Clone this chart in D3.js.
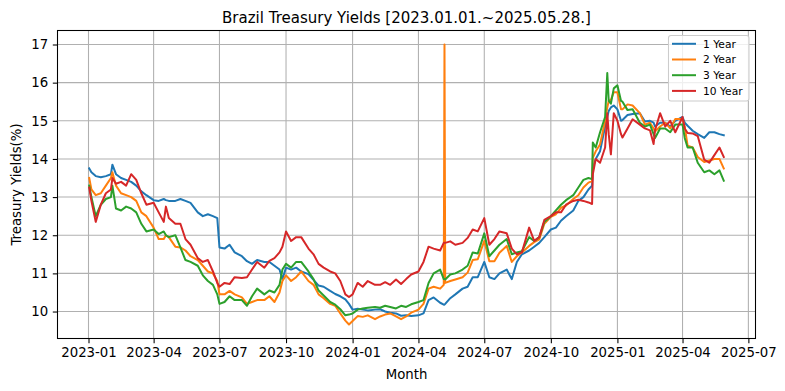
<!DOCTYPE html>
<html>
<head>
<meta charset="utf-8">
<script src="https://cdn.jsdelivr.net/npm/d3@7"></script>
<style>
  html, body { margin: 0; padding: 0; background: #fff; }
  svg { display: block; font-family: "DejaVu Sans", sans-serif; }
</style>
</head>
<body>
<svg id="chart" width="785" height="391"></svg>
<script>
const dates = [
"2023-01-02","2023-01-05","2023-01-11","2023-01-18","2023-01-25","2023-02-01","2023-02-03","2023-02-08","2023-02-15","2023-02-22",
"2023-03-01","2023-03-08","2023-03-15","2023-03-22","2023-04-01","2023-04-08","2023-04-15","2023-04-18","2023-04-22","2023-05-01",
"2023-05-08","2023-05-15","2023-05-22","2023-06-01","2023-06-08","2023-06-15","2023-06-22","2023-06-28","2023-07-01","2023-07-08",
"2023-07-15","2023-07-22","2023-08-01","2023-08-08","2023-08-15","2023-08-22","2023-09-01","2023-09-08","2023-09-15","2023-09-22",
"2023-09-26","2023-10-01","2023-10-08","2023-10-15","2023-10-22","2023-11-01","2023-11-08","2023-11-15","2023-11-22","2023-12-01",
"2023-12-08","2023-12-15","2023-12-22","2023-12-27","2024-01-01","2024-01-08","2024-01-15","2024-01-22","2024-02-01","2024-02-08",
"2024-02-15","2024-02-22","2024-03-01","2024-03-08","2024-03-15","2024-03-22","2024-04-01","2024-04-08","2024-04-15","2024-04-22",
"2024-05-01","2024-05-06","2024-05-07","2024-05-08","2024-05-15","2024-05-22","2024-06-01","2024-06-08","2024-06-15","2024-06-22",
"2024-07-01","2024-07-08","2024-07-15","2024-07-22","2024-08-01","2024-08-08","2024-08-15","2024-08-22","2024-09-01","2024-09-08",
"2024-09-15","2024-09-22","2024-10-01","2024-10-08","2024-10-15","2024-10-22","2024-11-01","2024-11-08","2024-11-15","2024-11-22",
"2024-11-27","2024-11-28","2024-12-02","2024-12-08","2024-12-15","2024-12-18","2024-12-20","2024-12-23","2024-12-27","2025-01-01",
"2025-01-06","2025-01-08","2025-01-15","2025-01-22","2025-02-01","2025-02-08","2025-02-15","2025-02-20","2025-02-22","2025-03-01",
"2025-03-08","2025-03-15","2025-03-22","2025-04-01","2025-04-04","2025-04-08","2025-04-15","2025-04-22","2025-05-01","2025-05-08",
"2025-05-15","2025-05-22","2025-05-28"
];

const year1 = [
13.75,13.65,13.55,13.52,13.55,13.6,13.85,13.6,13.5,13.45,
13.4,13.3,13.15,13.05,12.92,12.9,12.95,12.92,12.9,12.9,
12.95,12.9,12.85,12.6,12.5,12.55,12.5,12.45,11.68,11.65,
11.75,11.55,11.45,11.32,11.25,11.35,11.3,11.3,11.2,11.1,
10.85,11.15,11.1,11.15,11.05,10.98,10.83,10.68,10.65,10.54,
10.46,10.4,10.32,10.2,10.05,10.07,10.05,10.03,10.05,10.06,
10.0,9.97,9.95,9.89,9.9,9.88,9.9,9.95,10.3,10.37,
10.23,10.18,10.18,10.2,10.35,10.45,10.6,10.65,10.9,10.9,
11.3,10.9,10.85,11.0,11.1,10.85,11.3,11.5,11.6,11.7,
11.8,11.95,12.15,12.2,12.38,12.5,12.65,12.9,13.0,13.2,
13.3,13.77,14.0,14.2,14.85,15.1,15.26,15.35,15.4,15.3,
15.0,15.02,15.15,15.18,15.2,14.98,15.0,14.95,14.85,14.95,
14.95,14.85,15.0,15.1,14.95,14.87,14.74,14.65,14.55,14.7,
14.7,14.65,14.62
];

const year2 = [
13.5,13.2,13.05,13.1,13.3,13.5,13.65,13.3,13.1,13.05,
13.0,12.9,12.6,12.5,12.2,11.9,11.9,12.0,11.95,11.7,
11.68,11.6,11.45,11.35,11.2,11.05,11.0,10.8,10.45,10.45,
10.54,10.45,10.37,10.2,10.25,10.3,10.3,10.4,10.25,10.5,
10.8,10.95,10.8,10.9,11.05,10.8,10.7,10.45,10.35,10.2,
10.15,9.95,9.76,9.66,9.75,9.88,9.86,9.9,9.8,9.87,
9.92,9.95,9.87,9.8,9.87,9.97,10.05,10.2,10.6,10.65,
10.6,10.7,17.0,10.75,10.8,10.84,10.9,11.02,11.35,11.37,
11.85,11.32,11.32,11.54,11.72,11.3,11.45,11.55,11.72,11.82,
11.89,12.3,12.48,12.55,12.72,12.78,12.95,13.05,13.25,13.38,
13.42,14.03,14.2,14.38,15.0,15.35,15.52,15.55,15.75,15.75,
15.3,15.3,15.43,15.4,15.2,14.9,14.95,14.8,14.72,14.85,
14.95,14.8,15.05,15.05,14.85,14.35,14.3,14.05,13.92,13.96,
14.0,14.0,13.75
];

const year3 = [
13.3,13.0,12.5,12.8,12.95,13.0,13.3,12.7,12.65,12.75,
12.7,12.6,12.3,12.1,12.15,12.03,12.1,12.0,11.95,12.0,
11.68,11.35,11.3,11.2,10.95,10.8,10.7,10.45,10.2,10.25,
10.4,10.3,10.3,10.15,10.4,10.6,10.45,10.55,10.5,10.7,
11.1,11.25,11.15,11.3,11.3,11.05,10.85,10.55,10.42,10.25,
10.18,10.06,9.9,9.92,9.95,10.05,10.08,10.1,10.12,10.1,
10.15,10.12,10.08,10.15,10.12,10.19,10.25,10.3,10.75,11.0,
11.1,10.85,10.85,10.84,10.97,11.0,11.1,11.2,11.55,11.52,
12.05,11.45,11.6,11.75,11.9,11.5,11.55,11.58,11.95,11.85,
11.95,12.35,12.5,12.65,12.8,12.92,13.05,13.25,13.45,13.5,
13.47,14.43,14.3,14.7,15.1,16.25,15.52,15.45,15.85,15.93,
15.52,15.5,15.28,15.3,14.95,14.85,14.9,14.65,14.55,14.8,
14.8,14.7,14.9,14.9,14.55,14.3,14.3,13.9,13.65,13.7,
13.6,13.7,13.43
];

const year10 = [
13.25,12.9,12.35,12.8,13.1,13.2,13.5,13.35,13.4,13.3,
13.6,13.45,13.1,12.8,12.85,12.6,12.35,12.75,12.45,12.3,
12.3,11.9,11.75,11.4,11.3,11.35,11.05,10.75,10.65,10.75,
10.72,10.9,10.88,10.9,11.1,11.3,11.15,11.33,11.4,11.55,
11.7,12.1,11.85,11.95,11.95,11.65,11.5,11.25,11.15,11.05,
11.0,10.8,10.45,10.38,10.45,10.75,10.65,10.8,10.7,10.7,
10.77,10.7,10.84,10.72,10.85,10.97,11.05,11.3,11.7,11.65,
11.6,11.8,11.8,11.8,11.84,11.75,11.8,11.93,12.15,12.1,
12.45,11.75,11.9,12.1,12.05,11.65,11.5,11.55,12.2,11.85,
11.95,12.4,12.5,12.6,12.6,12.8,12.9,12.93,12.9,12.86,
12.82,13.6,14.0,13.9,14.3,15.2,14.65,14.12,15.2,15.0,
14.65,14.56,14.8,15.04,14.9,14.8,14.75,14.39,14.75,15.2,
14.85,15.0,14.7,15.1,14.8,14.68,14.67,14.6,13.98,13.9,
14.1,14.3,14.05
];

const seriesNames = ["1 Year", "2 Year", "3 Year", "10 Year"];
const yTicks = [10, 11, 12, 13, 14, 15, 16, 17];
const xTickLabels = ["2023-01","2023-04","2023-07","2023-10","2024-01","2024-04","2024-07","2024-10","2025-01","2025-04","2025-07"];
const titleText = "Brazil Treasury Yields [2023.01.01.~2025.05.28.]";
const xLabel = "Month";
const yLabel = "Treasury Yields(%)";

const colors = ["#1f77b4", "#ff7f0e", "#2ca02c", "#d62728"];
const allSeries = [year1, year2, year3, year10];

const svg = d3.select("#chart");
const L = 57.5, R = 755.5, T = 30.5, B = 338.5;

const parse = d3.utcParse("%Y-%m-%d");
const parsedDates = dates.map(parse);
const t0 = d3.min(parsedDates), t1 = d3.max(parsedDates);
const tPad = (t1 - t0) * 0.05;
const x = d3.scaleUtc().domain([new Date(+t0 - tPad), new Date(+t1 + tPad)]).range([L, R]);

const allVals = allSeries.flat();
const vMin = d3.min(allVals), vMax = d3.max(allVals);
const vPad = (vMax - vMin) * 0.05;
const y = d3.scaleLinear().domain([vMin - vPad, vMax + vPad]).range([B, T]);

const xTickDates = xTickLabels.map(d3.utcParse("%Y-%m"));

// grid
const grid = svg.append("g");
grid.selectAll("line.gx").data(xTickDates).enter().append("line")
  .attr("x1", d => x(d)).attr("x2", d => x(d)).attr("y1", T).attr("y2", B)
  .attr("stroke", "#b0b0b0").attr("stroke-width", 1.07);
grid.selectAll("line.gy").data(yTicks).enter().append("line")
  .attr("x1", L).attr("x2", R).attr("y1", d => y(d)).attr("y2", d => y(d))
  .attr("stroke", "#b0b0b0").attr("stroke-width", 1.07);

// clip
svg.append("defs").append("clipPath").attr("id", "clip")
  .append("rect").attr("x", L).attr("y", T).attr("width", R - L).attr("height", B - T);

const line = d3.line().x((d, i) => x(parsedDates[i])).y(d => y(d));
const lines = svg.append("g").attr("clip-path", "url(#clip)");
allSeries.forEach((s, k) => {
  lines.append("path").datum(s).attr("d", line)
    .attr("fill", "none").attr("stroke", colors[k]).attr("stroke-width", 2)
    .attr("stroke-linejoin", "round").attr("stroke-linecap", "square");
});

// axes
const xAxis = d3.axisBottom(x).tickValues(xTickDates).tickFormat(d3.utcFormat("%Y-%m"))
  .tickSizeOuter(0).tickSizeInner(4.7).tickPadding(4.7);
const gx = svg.append("g").attr("transform", `translate(0,${B})`).call(xAxis);
gx.select(".domain").remove();
gx.selectAll("text").attr("font-size", "13.3px").attr("fill", "#000").attr("font-family", "DejaVu Sans");
gx.selectAll("line").attr("stroke", "#000").attr("stroke-width", 1.07);

const yAxis = d3.axisLeft(y).tickValues(yTicks).tickFormat(d3.format("d"))
  .tickSizeOuter(0).tickSizeInner(4.7).tickPadding(4.7);
const gy = svg.append("g").attr("transform", `translate(${L},0)`).call(yAxis);
gy.select(".domain").remove();
gy.selectAll("text").attr("font-size", "13.3px").attr("fill", "#000").attr("font-family", "DejaVu Sans");
gy.selectAll("line").attr("stroke", "#000").attr("stroke-width", 1.07);

// frame
svg.append("rect").attr("x", L).attr("y", T).attr("width", R - L).attr("height", B - T)
  .attr("fill", "none").attr("stroke", "#000").attr("stroke-width", 1.07);

// labels
svg.append("text").attr("x", (L + R) / 2).attr("y", 22.5).attr("text-anchor", "middle")
  .attr("font-size", "15px").text(titleText);
svg.append("text").attr("x", (L + R) / 2).attr("y", 378.5).attr("text-anchor", "middle")
  .attr("font-size", "13.3px").text(xLabel);
svg.append("text").attr("transform", `translate(21,${(T + B) / 2}) rotate(-90)`)
  .attr("text-anchor", "middle").attr("font-size", "13.3px").text(yLabel);

// legend
const lg = svg.append("g");
lg.append("rect").attr("x", 668.5).attr("y", 35.5).attr("width", 80.5).attr("height", 65.5)
  .attr("rx", 2.5).attr("fill", "#fff").attr("fill-opacity", 0.8)
  .attr("stroke", "#cccccc").attr("stroke-width", 1.07);
seriesNames.forEach((n, k) => {
  const ly = 43.8 + k * 15.7;
  lg.append("line").attr("x1", 672).attr("x2", 696).attr("y1", ly).attr("y2", ly)
    .attr("stroke", colors[k]).attr("stroke-width", 2);
  lg.append("text").attr("x", 703).attr("y", ly + 3.9).attr("font-size", "10.7px").text(n);
});
</script>
</body>
</html>
